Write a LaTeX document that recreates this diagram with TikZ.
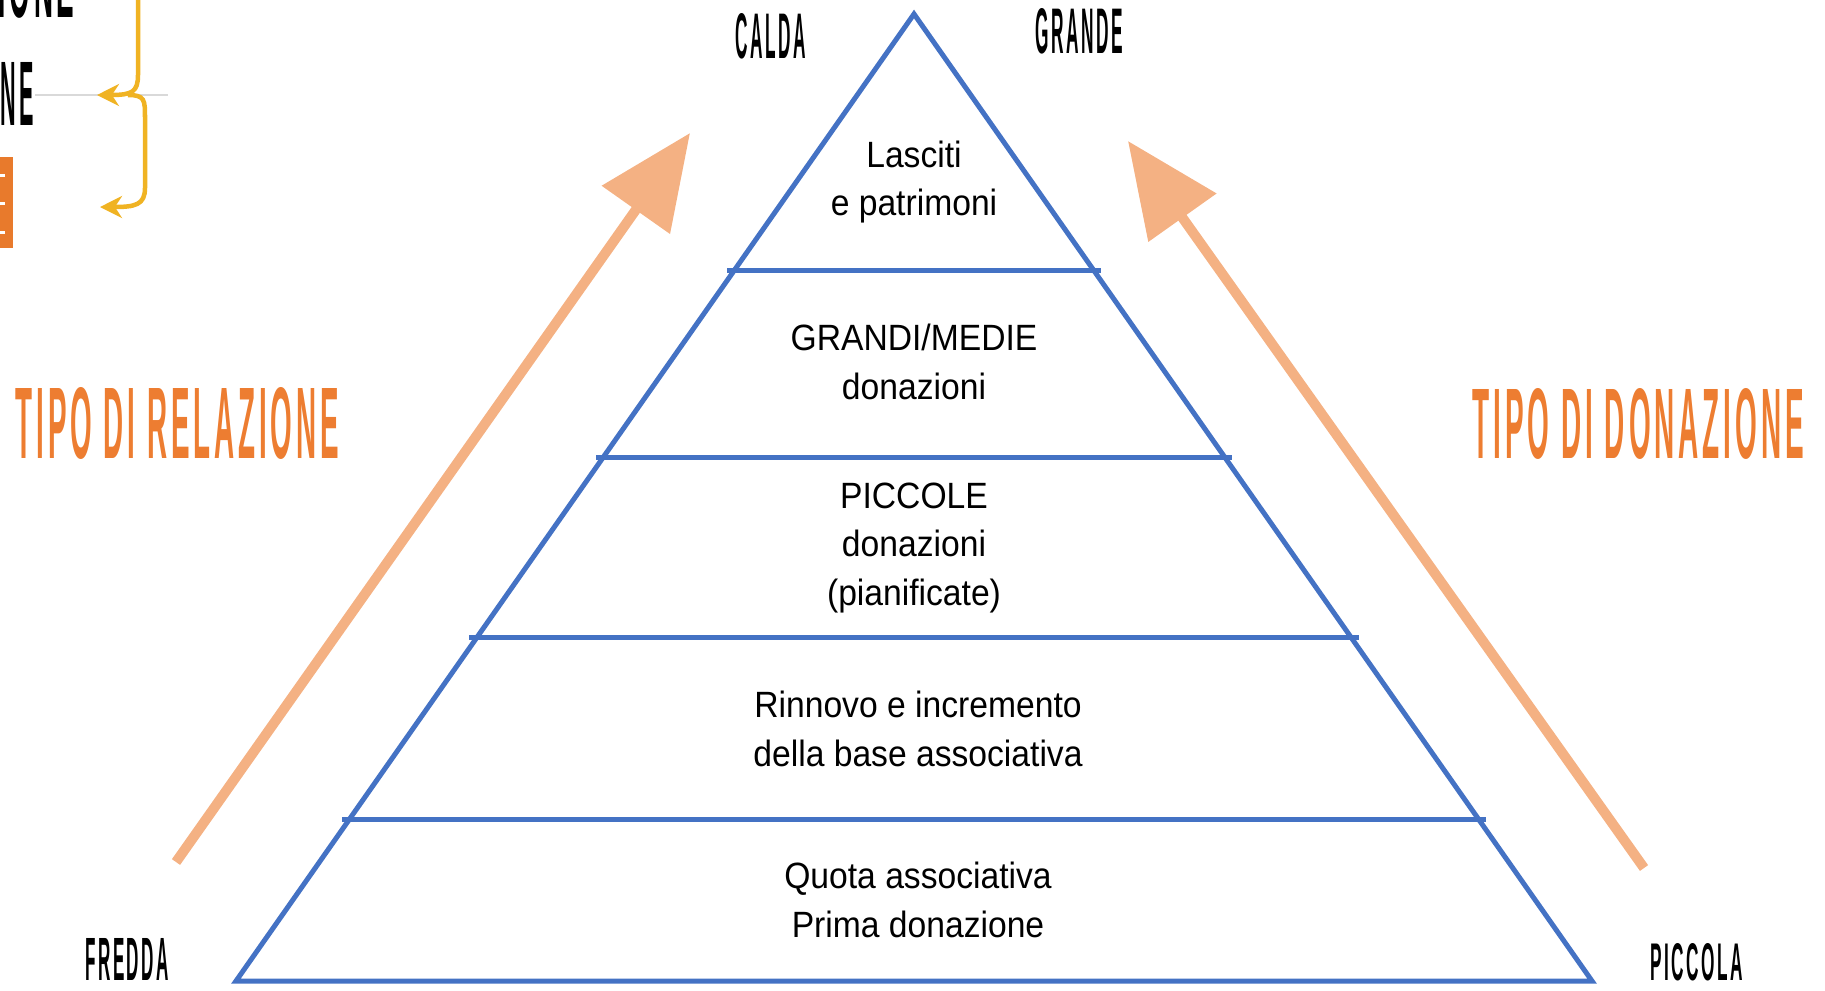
\documentclass[tikz,border=0pt]{standalone}
\usepackage{fontspec}
\usepackage{graphicx}
\setmainfont{Liberation Sans}
\newfontfamily\bodyfont[FakeStretch=0.92]{Liberation Sans}
\newfontfamily\headfont[LetterSpace=14]{Liberation Sans}
\usetikzlibrary{arrows.meta}
\definecolor{pyrblue}{HTML}{4472C4}
\definecolor{titleorange}{HTML}{ED7D31}
\definecolor{arrowpeach}{HTML}{F4B183}
\definecolor{bracketyellow}{HTML}{F0B323}
\definecolor{boxorange}{HTML}{E87A2C}
\newcommand{\squeezed}[3]{\resizebox{#1}{#2}{\headfont\bfseries #3}}
\begin{document}
\begin{tikzpicture}[x=0.01cm,y=-0.01cm,
  pyrline/.style={draw=pyrblue,line width=0.05cm},
  leveltext/.style={font=\bodyfont\fontsize{10.4pt}{13.9pt}\selectfont,align=center,inner sep=0pt},
  sidelabel/.style={inner sep=0pt,anchor=base west},
  bigarrow/.style={draw=arrowpeach,line width=0.1cm,-{Triangle[length=0.94cm,width=0.81cm]}},
  yarrow/.style={draw=bracketyellow,line width=0.045cm,-{Stealth[length=0.22cm,width=0.22cm]}}]
\useasboundingbox (0,0) rectangle (1825,990);
\begin{scope}
\clip (0,0) rectangle (1825,990);
% fragments at top left
\draw[black!15,line width=0.012cm] (35,95) -- (168,95);
\node[sidelabel,anchor=base east] (fragA) at (75,17) {\squeezed{0.95cm}{0.63cm}{ZIONE}};
\node[sidelabel] (fragB) at (0,125) {\squeezed{0.33cm}{0.63cm}{NE}};
\fill[boxorange] (-2,157) rectangle (13,248);
\foreach \yy in {175,203,232} \draw[white,line width=0.03cm] (-2,\yy) -- (5,\yy);
\coordinate (ytop) at (138,-5);
\coordinate (ytip1) at (97,95);
\coordinate (ystart2) at (128,95);
\coordinate (ytip2) at (100,207);
\draw[yarrow] (ytop) -- (138,75) .. controls (138,92) and (132,95) .. (ytip1);
\draw[yarrow] (ystart2) .. controls (145,95) and (145,100) .. (145,118) -- (145,188) .. controls (145,205) and (135,207) .. (ytip2);
\end{scope}
% pyramid
\coordinate (apex) at (914,14);
\coordinate (bl) at (236,981);
\coordinate (br) at (1592,981);
\draw[pyrline,line join=miter] (apex) -- (bl) -- (br) -- cycle;
\coordinate (l1a) at (727,270); \coordinate (l1b) at (1101,270);
\coordinate (l2a) at (596,457); \coordinate (l2b) at (1232,457);
\coordinate (l3a) at (469,637); \coordinate (l3b) at (1359,637);
\coordinate (l4a) at (342,819); \coordinate (l4b) at (1486,819);
\draw[pyrline] (l1a) -- (l1b);
\draw[pyrline] (l2a) -- (l2b);
\draw[pyrline] (l3a) -- (l3b);
\draw[pyrline] (l4a) -- (l4b);
% level texts
\node[leveltext] (lev1) at (914,182) {Lasciti\\e patrimoni};
\node[leveltext] (lev2) at (914,362) {GRANDI/MEDIE\\donazioni};
\node[leveltext] (lev3) at (914,548) {PICCOLE\\donazioni\\(pianificate)};
\node[leveltext] (lev4) at (918,729) {Rinnovo e incremento\\della base associativa};
\node[leveltext] (lev5) at (918,900) {Quota associativa\\Prima donazione};
% side arrows
\coordinate (la0) at (176,862);
\coordinate (la1) at (690,133);
\coordinate (ra0) at (1644,868);
\coordinate (ra1) at (1128,141);
\draw[bigarrow] (la0) -- (la1);
\draw[bigarrow] (ra0) -- (ra1);
% labels
\node[sidelabel] (calda) at (735,58) {\squeezed{0.70cm}{0.45cm}{CALDA}};
\node[sidelabel] (grande) at (1035,53) {\squeezed{0.87cm}{0.45cm}{GRANDE}};
\node[sidelabel] (fredda) at (85,980) {\squeezed{0.83cm}{0.42cm}{FREDDA}};
\node[sidelabel] (piccola) at (1650,980) {\squeezed{0.92cm}{0.37cm}{PICCOLA}};
\node[sidelabel,text=titleorange] (tiporel) at (15,458) {\squeezed{3.23cm}{0.71cm}{TIPO DI RELAZIONE}};
\node[sidelabel,text=titleorange] (tipodon) at (1472,458) {\squeezed{3.31cm}{0.70cm}{TIPO DI DONAZIONE}};
\end{tikzpicture}
\end{document}
